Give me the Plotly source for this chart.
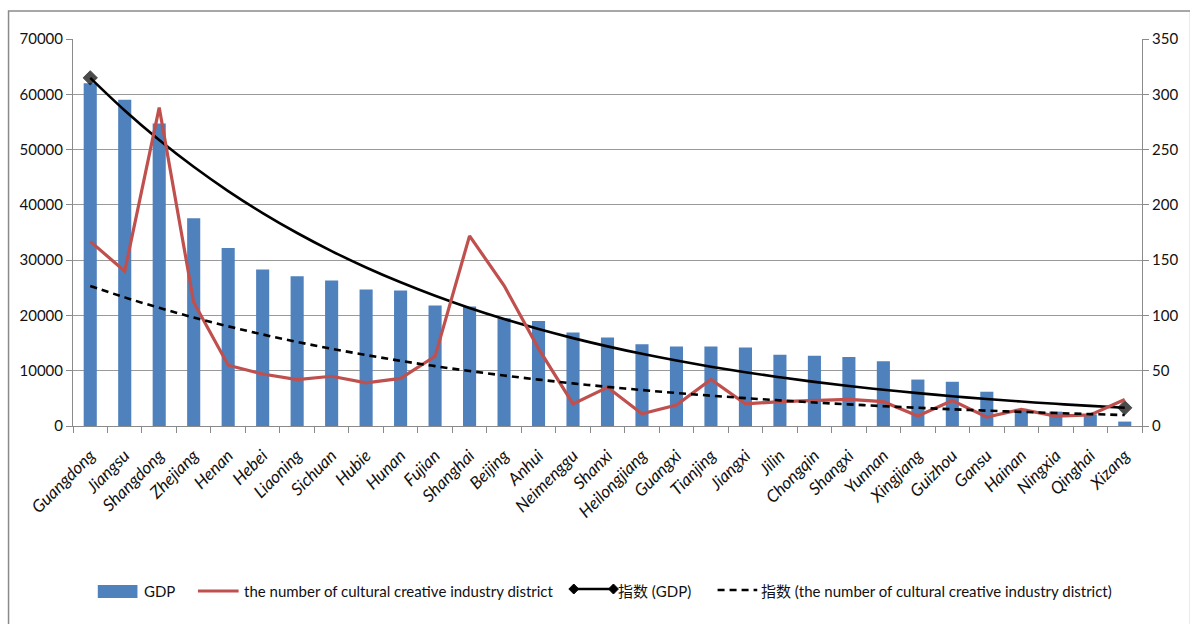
import numpy as np
import plotly.graph_objects as go

# Provinces ordered by GDP
provinces = ["Guangdong", "Jiangsu", "Shangdong", "Zhejiang", "Henan", "Hebei", "Liaoning",
             "Sichuan", "Hubie", "Hunan", "Fujian", "Shanghai", "Beijing", "Anhui", "Neimenggu",
             "Shanxi", "Heilongjiang", "Guangxi", "Tianjing", "Jiangxi", "Jilin", "Chongqin",
             "Shangxi", "Yunnan", "Xingjiang", "Guizhou", "Gansu", "Hainan", "Ningxia",
             "Qinghai", "Xizang"]

# GDP (left axis)
gdp = [62000, 59000, 54700, 37600, 32200, 28300, 27100, 26300, 24700, 24500, 21800,
       21600, 19500, 19000, 16900, 16000, 14800, 14400, 14400, 14200, 12900, 12700,
       12500, 11700, 8400, 8000, 6200, 3100, 2600, 2100, 800]

# number of cultural creative industry districts (right axis)
districts = [167, 140, 288, 112, 55, 47, 42, 45, 39, 43, 63, 172, 127, 70, 20, 35, 11,
             19, 42, 20, 22, 23, 24, 22, 9, 23, 8, 15, 9, 10, 24]

left_ticks = [0, 10000, 20000, 30000, 40000, 50000, 60000, 70000]
right_ticks = [0, 50, 100, 150, 200, 250, 300, 350]

FONT = "Lato, Noto Sans CJK SC, sans-serif"
BLUE = "#4F81BD"
RED = "#C0504D"
GRID = "#9a9a9a"
AXIS = "#8a8a8a"
TEXT = "#111111"

# exponential trendlines: least squares fit of log(value) against position 1..n
x_idx = np.arange(1, len(provinces) + 1)


def exp_trend(values):
    slope, intercept = np.polyfit(x_idx, np.log(np.asarray(values, dtype=float)), 1)
    return np.exp(intercept + slope * x_idx)


gdp_trend = exp_trend(gdp)
district_trend = exp_trend(districts)

end_sizes = [11] + [0] * (len(provinces) - 2) + [11]

fig = go.Figure()
fig.add_trace(go.Bar(x=provinces, y=gdp, name="GDP", marker=dict(color=BLUE, line_width=0),
                     width=0.38, yaxis="y"))
fig.add_trace(go.Scatter(x=provinces, y=districts, mode="lines",
                         name="the number of cultural creative industry district",
                         line=dict(color=RED, width=3.2), yaxis="y2"))
fig.add_trace(go.Scatter(x=provinces, y=gdp_trend, mode="lines+markers", name="指数 (GDP)",
                         line=dict(color="black", width=2.6, shape="spline"),
                         marker=dict(symbol="diamond", size=end_sizes, color="black",
                                     line=dict(color="black", width=1)),
                         yaxis="y"))
fig.add_trace(go.Scatter(x=provinces, y=district_trend, mode="lines",
                         name="指数 (the number of cultural creative industry district)",
                         line=dict(color="black", width=2.6, dash="7px,5px", shape="spline"),
                         yaxis="y2"))

# plot-area geometry in pixels
W, H = 1190, 624
L, R, T, B = 73, 1151, 39, 426


def px(x):
    return (x - L) / (R - L)


def py(y):
    return (B - y) / (B - T)


shapes = []
annotations = []

# outer chart frame
shapes.append(dict(type="rect", xref="paper", yref="paper", x0=px(8), x1=px(1200),
                   y0=py(11), y1=py(640), line=dict(color=AXIS, width=1.5),
                   fillcolor="rgba(0,0,0,0)", layer="below"))

LY = 591


def diamond(cx, cy, r=5):
    return (f"M {px(cx - r)} {py(cy)} L {px(cx)} {py(cy - r)} L {px(cx + r)} {py(cy)} "
            f"L {px(cx)} {py(cy + r)} Z")


# legend symbols
shapes.append(dict(type="rect", xref="paper", yref="paper", x0=px(98), x1=px(138),
                   y0=py(585), y1=py(598), fillcolor=BLUE, line_width=0))
shapes.append(dict(type="line", xref="paper", yref="paper", x0=px(199), x1=px(240),
                   y0=py(LY), y1=py(LY), line=dict(color=RED, width=3.2)))
shapes.append(dict(type="line", xref="paper", yref="paper", x0=px(578), x1=px(618),
                   y0=py(LY - 2), y1=py(LY - 2), line=dict(color="black", width=2.6)))
for cx in (578, 618):
    shapes.append(dict(type="path", xref="paper", yref="paper", path=diamond(cx, LY - 2),
                       fillcolor="black", line=dict(color="black", width=1)))
shapes.append(dict(type="line", xref="paper", yref="paper", x0=px(723), x1=px(763),
                   y0=py(LY - 1), y1=py(LY - 1),
                   line=dict(color="black", width=2.6, dash="7px,5px")))

legend_texts = [(143, "GDP"),
                (243, "the number of cultural creative industry district"),
                (621, "指数 (GDP)"),
                (765, "指数 (the number of cultural creative industry district)")]
for x0, txt in legend_texts:
    annotations.append(dict(xref="paper", yref="paper", x=px(x0), y=py(LY), text=txt,
                            showarrow=False, xanchor="left", yanchor="middle",
                            font=dict(family=FONT, size=15, color=TEXT)))

fig.update_layout(
    width=W, height=H,
    margin=dict(l=L, r=W - R, t=T, b=H - B, pad=0),
    paper_bgcolor="white", plot_bgcolor="white",
    showlegend=False,
    font=dict(family=FONT, color=TEXT),
    shapes=shapes, annotations=annotations,
    xaxis=dict(type="category", range=[-0.5, len(provinces) - 0.5],
               tickmode="array", tickvals=provinces,
               ticktext=[f"<i>{p}</i>" for p in provinces],
               tickangle=-45, tickson="boundaries", ticks="outside", ticklen=6,
               tickcolor=AXIS, showline=True, linecolor=AXIS, linewidth=1,
               ticklabelstandoff=12,
               showgrid=False, tickfont=dict(family=FONT, size=17, color=TEXT)),
    yaxis=dict(range=[0, 70000], tickmode="array", tickvals=left_ticks, tickformat="d",
               showgrid=True, gridcolor=GRID, gridwidth=1, zeroline=False,
               ticks="outside", ticklen=6, tickcolor=AXIS, showline=True, linecolor=AXIS,
               tickfont=dict(family=FONT, size=15, color=TEXT)),
    yaxis2=dict(range=[0, 350], overlaying="y", side="right", tickmode="array",
                tickvals=right_ticks, tickformat="d", showgrid=False, zeroline=False,
                ticks="outside", ticklen=6, tickcolor=AXIS, showline=True, linecolor=AXIS,
                tickfont=dict(family=FONT, size=15, color=TEXT)),
    bargap=0.62,
)

fig.write_html("out.html")
